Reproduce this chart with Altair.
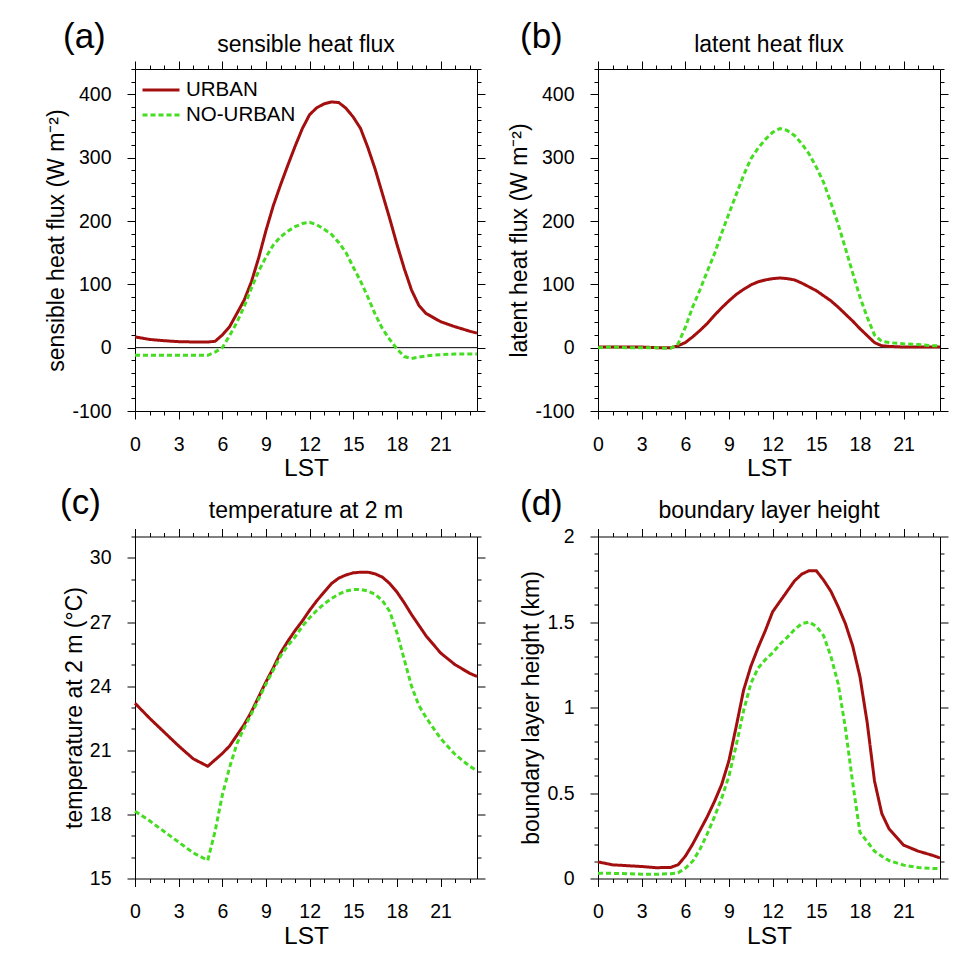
import altair as alt
import pandas as pd

FONT = "Liberation Sans"
RED = "#a30f0f"
GREEN = "#44dd22"

SERIES = ["URBAN", "NO-URBAN"]
PANEL_LABELS = ["(a)", "(b)", "(c)", "(d)"]
TITLES = ["sensible heat flux", "latent heat flux", "temperature at 2 m", "boundary layer height"]
Y_TITLES = ["sensible heat flux (W m\u207b\u00b2)", "latent heat flux (W m\u207b\u00b2)",
            "temperature at 2 m (\u00b0C)", "boundary layer height (km)"]

# local standard time (hours)
HOURS = [0, 1, 2, 3, 4, 5, 5.5, 6, 6.5, 7, 7.5, 8, 8.5, 9, 9.5, 10, 10.5, 11, 11.5, 12,
         12.5, 13, 13.5, 14, 14.5, 15, 15.5, 16, 16.5, 17, 17.5, 18, 18.5, 19, 19.5, 20,
         21, 22, 23, 23.5]

# (a) sensible heat flux (W m-2)
SH_URBAN = [17, 13, 11, 9.5, 9, 9, 10, 20, 33, 54, 75, 104, 142, 185, 224, 257, 288, 318, 346, 368,
            379, 385, 388, 387, 378, 364, 346, 316, 282, 243, 204, 163, 125, 91, 67, 54,
            41, 33, 26, 23]
SH_NOURBAN = [-12, -12, -12, -12, -12, -12, -7, 0, 19, 40, 65, 94, 121, 143, 162, 175, 184, 191, 196, 198,
              194, 187, 179, 166, 150, 127, 105, 80, 53, 30, 13, -2, -14, -17, -15, -13,
              -11, -10, -10, -10]

# (b) latent heat flux (W m-2)
LH_URBAN = [1, 1, 1, 1, 0, 0, 3, 8, 17, 27, 38, 51, 63, 74, 84, 92, 99, 104, 107, 109,
            110, 109, 107, 102, 96, 90, 82, 74, 64, 53, 42, 30, 19, 8, 3, 2,
            1, 1, 1, 1]
LH_NOURBAN = [0, 1, 0, 0, 0, -1, 6, 32, 64, 91, 120, 148, 181, 212, 242, 272, 298, 315, 329, 340,
              346, 343, 335, 322, 306, 285, 261, 229, 195, 157, 118, 80, 48, 20, 10, 8,
              6, 5, 3, 3]

# (c) 2-m temperature (degC)
T2_URBAN = [23.2, 22.5, 21.85, 21.2, 20.6, 20.25, 20.55, 20.85, 21.2, 21.7, 22.2, 22.8, 23.5, 24.2,
            24.85, 25.55, 26.1, 26.6, 27.05, 27.55, 28.0, 28.4, 28.8, 29.05, 29.2, 29.3, 29.33,
            29.33, 29.25, 29.1, 28.8, 28.4, 27.9, 27.35, 26.85, 26.35, 25.55, 25.0, 24.6, 24.45]
T2_NOURBAN = [18.15, 17.7, 17.2, 16.7, 16.2, 15.85, 17.2, 18.9, 20.2, 21.3, 22.05, 22.7, 23.4, 24.1,
              24.75, 25.4, 25.9, 26.3, 26.8, 27.2, 27.55, 27.85, 28.1, 28.3, 28.45, 28.52, 28.52,
              28.45, 28.3, 28.0, 27.5, 26.5, 25.25, 24.0, 23.1, 22.53, 21.55, 20.8, 20.25, 20.05]

# (d) boundary layer height (km)
PBL_URBAN = [0.097, 0.08, 0.075, 0.07, 0.063, 0.065, 0.08, 0.13, 0.2, 0.28, 0.36, 0.45, 0.55, 0.69,
             0.89, 1.1, 1.24, 1.35, 1.45, 1.56, 1.62, 1.68, 1.74, 1.78, 1.80, 1.80, 1.745, 1.68,
             1.59, 1.49, 1.36, 1.18, 0.91, 0.57, 0.38, 0.29, 0.195, 0.16, 0.135, 0.12]
PBL_NOURBAN = [0.03, 0.03, 0.028, 0.025, 0.025, 0.028, 0.033, 0.06, 0.1, 0.17, 0.26, 0.36, 0.47, 0.6,
               0.78, 0.98, 1.14, 1.23, 1.28, 1.32, 1.37, 1.41, 1.455, 1.49, 1.5, 1.475, 1.42, 1.30,
               1.14, 0.88, 0.56, 0.27, 0.215, 0.16, 0.13, 0.105, 0.078, 0.064, 0.058, 0.058]

X_DOMAIN = [0, 23.5]
X_MAJOR = [0, 3, 6, 9, 12, 15, 18, 21]
X_MINOR = [h for h in range(0, 24) if h % 3]

FLUX_DOMAIN = [-100, 440]
FLUX_MAJOR = [-100, 0, 100, 200, 300, 400]
FLUX_MINOR = [v for v in range(-100, 441, 20) if v % 100]
T_DOMAIN = [15, 31]
T_MAJOR = [15, 18, 21, 24, 27, 30]
T_MINOR = [v for v in range(15, 32) if v % 3]
PBL_DOMAIN = [0, 2]
PBL_MAJOR = [0, 0.5, 1, 1.5, 2]
PBL_MINOR = [round(i * 0.1, 1) for i in range(0, 21) if i % 5]

W = 342
H = 342


def panel(idx, urban, nourban, ydomain, ymajor, yminor, legend, zero,
          title_y, lab_dx, lab_dy):
    df_u = pd.DataFrame({"hour": HOURS, "value": urban, "series": SERIES[0]})
    df_n = pd.DataFrame({"hour": HOURS, "value": nourban, "series": SERIES[1]})
    xs = alt.Scale(domain=X_DOMAIN, nice=False, zero=False)
    ys = alt.Scale(domain=ydomain, nice=False, zero=False)
    cscale = alt.Scale(domain=SERIES, range=[RED, GREEN])
    dscale = alt.Scale(domain=SERIES, range=[[1, 0], [5, 3]])
    if legend:
        leg = alt.Legend(title=None, orient="none", legendX=15, legendY=10,
                         symbolType="M-2,0H2", symbolSize=342, symbolStrokeWidth=3,
                         labelFontSize=20.5, labelFont=FONT, labelColor="black",
                         labelOffset=14, rowPadding=3, padding=0)
    else:
        leg = None

    urban_line = alt.Chart(df_u).mark_line(strokeWidth=3).encode(
        x=alt.X("hour:Q", scale=xs,
                axis=alt.Axis(orient="bottom", values=X_MAJOR, title="LST", tickSize=8,
                              labelPadding=16, titlePadding=3, titleFontSize=24.5,
                              labelFlush=False, labelOverlap=False)),
        y=alt.Y("value:Q", scale=ys,
                axis=alt.Axis(orient="left", values=ymajor, title=Y_TITLES[idx], tickSize=8,
                              labelPadding=16, titlePadding=3, labelExpr="'' + datum.value",
                              labelOverlap=False, labelFlush=False)),
        color=alt.Color("series:N", scale=cscale, legend=leg),
        strokeDash=alt.StrokeDash("series:N", scale=dscale, legend=leg),
    )
    nourban_line = alt.Chart(df_n).mark_line(strokeWidth=3).encode(
        x=alt.X("hour:Q", scale=xs, axis=None),
        y=alt.Y("value:Q", scale=ys, axis=None),
        color=alt.Color("series:N", scale=cscale, legend=leg),
        strokeDash=alt.StrokeDash("series:N", scale=dscale, legend=leg),
    )
    major_tr = alt.Chart(df_u).mark_line(strokeOpacity=0).encode(
        x=alt.X("hour:Q", scale=xs,
                axis=alt.Axis(orient="top", values=X_MAJOR, labels=False, tickSize=8, title=None)),
        y=alt.Y("value:Q", scale=ys,
                axis=alt.Axis(orient="right", values=ymajor, labels=False, tickSize=8, title=None)),
    )
    minor_bl = alt.Chart(df_u).mark_line(strokeOpacity=0).encode(
        x=alt.X("hour:Q", scale=xs,
                axis=alt.Axis(orient="bottom", values=X_MINOR, labels=False, tickSize=4, title=None)),
        y=alt.Y("value:Q", scale=ys,
                axis=alt.Axis(orient="left", values=yminor, labels=False, tickSize=4, title=None)),
    )
    minor_tr = alt.Chart(df_u).mark_line(strokeOpacity=0).encode(
        x=alt.X("hour:Q", scale=xs,
                axis=alt.Axis(orient="top", values=X_MINOR, labels=False, tickSize=4, title=None)),
        y=alt.Y("value:Q", scale=ys,
                axis=alt.Axis(orient="right", values=yminor, labels=False, tickSize=4, title=None)),
    )
    txt = alt.Chart(pd.DataFrame({"label": [PANEL_LABELS[idx]], "title": [TITLES[idx]]}))
    label = txt.mark_text(
        align="left", baseline="alphabetic", fontSize=35, font=FONT, color="black"
    ).encode(x=alt.value(lab_dx), y=alt.value(lab_dy), text="label:N")
    title = txt.mark_text(
        align="center", baseline="alphabetic", fontSize=23, font=FONT, color="black"
    ).encode(x=alt.value(W / 2), y=alt.value(title_y), text="title:N")

    layers = []
    if zero:
        zl = alt.Chart(pd.DataFrame({"zero": [0]})).mark_rule(color="black", strokeWidth=1).encode(
            y=alt.Y("zero:Q", scale=ys, axis=None))
        layers.append(zl)
    layers += [urban_line, nourban_line, major_tr, minor_bl, minor_tr, label, title]

    return alt.layer(*layers).resolve_axis(x="independent", y="independent").properties(
        width=W, height=H,
    )


pa = panel(0, SH_URBAN, SH_NOURBAN, FLUX_DOMAIN, FLUX_MAJOR, FLUX_MINOR, True, True, -16.6, -72, -21.5)
pb = panel(1, LH_URBAN, LH_NOURBAN, FLUX_DOMAIN, FLUX_MAJOR, FLUX_MINOR, False, True, -16.6, -78, -21.5)
pc = panel(2, T2_URBAN, T2_NOURBAN, T_DOMAIN, T_MAJOR, T_MINOR, False, False, -19, -75, -22.5)
pd_ = panel(3, PBL_URBAN, PBL_NOURBAN, PBL_DOMAIN, PBL_MAJOR, PBL_MINOR, False, False, -19, -78, -21.5)

chart = alt.concat(
    pa, pb, pc, pd_, columns=2, spacing={"row": 125.5, "column": 121}, bounds="flush"
).resolve_scale(
    color="independent", strokeDash="independent"
).properties(
    padding={"left": 37, "top": 11, "right": 5, "bottom": 5},
    background="white",
).configure_view(
    stroke="black", strokeWidth=1
).configure_axis(
    labelFont=FONT, titleFont=FONT, labelFontSize=19.5, titleFontSize=23,
    labelColor="black", titleColor="black", tickColor="black", tickWidth=1,
    domain=False, grid=False, titleFontWeight="normal"
)

chart.save("out.html", embed_options={"renderer": "svg", "actions": False})
